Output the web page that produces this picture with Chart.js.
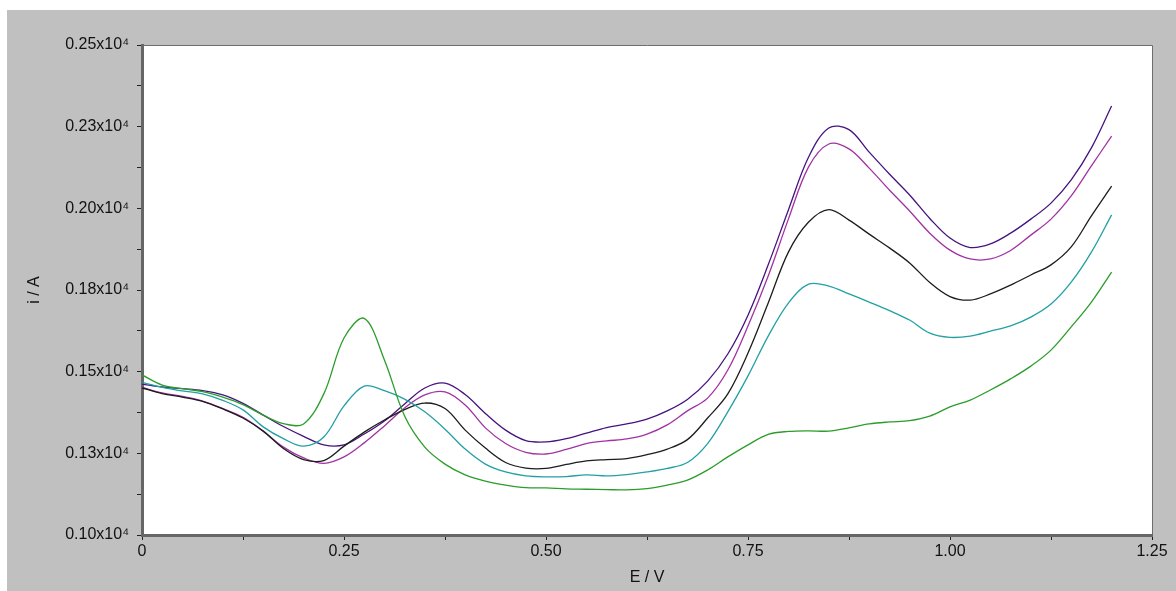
<!DOCTYPE html>
<html>
<head>
<meta charset="utf-8">
<script src="https://cdn.jsdelivr.net/npm/chart.js@4.4.0/dist/chart.umd.min.js"></script>
<style>
  html, body { margin: 0; padding: 0; background: #fff; }
  #panel { position: absolute; left: 7px; top: 10px; width: 1169px; height: 581px; background: #c0c0c0; }
</style>
</head>
<body>
<div id="panel"><canvas id="cv" width="1169" height="581"></canvas></div>
<script>
// potential E / V
const potential = [0, 0.025, 0.05, 0.075, 0.1, 0.125, 0.15, 0.175, 0.2, 0.225,
    0.25, 0.275, 0.3, 0.325, 0.35, 0.375, 0.4, 0.425, 0.45, 0.475,
    0.5, 0.525, 0.55, 0.575, 0.6, 0.625, 0.65, 0.675, 0.7, 0.725,
    0.75, 0.775, 0.8, 0.825, 0.85, 0.875, 0.9, 0.925, 0.95, 0.975,
    1.0, 1.025, 1.05, 1.075, 1.1, 1.125, 1.15, 1.175, 1.2];

// current i / A for each curve
const curveGreen = [1490, 1459, 1448, 1439, 1422, 1399, 1367, 1341, 1340, 1432,
    1603, 1663, 1536, 1364, 1269, 1217, 1184, 1165, 1153, 1145,
    1144, 1141, 1140, 1139, 1138, 1142, 1153, 1168, 1199, 1239,
    1276, 1308, 1317, 1319, 1318, 1328, 1340, 1346, 1350, 1364,
    1392, 1413, 1444, 1478, 1517, 1566, 1637, 1713, 1805];

const curveTeal = [1467, 1452, 1441, 1432, 1412, 1383, 1331, 1295, 1272, 1300,
    1395, 1456, 1442, 1416, 1377, 1324, 1263, 1217, 1193, 1181,
    1178, 1179, 1184, 1181, 1185, 1193, 1204, 1222, 1280, 1377,
    1487, 1609, 1710, 1768, 1762, 1738, 1713, 1687, 1658, 1618,
    1605, 1609, 1624, 1640, 1667, 1707, 1774, 1866, 1980];

const curveBlack = [1450, 1433, 1422, 1409, 1386, 1358, 1318, 1265, 1231, 1228,
    1272, 1315, 1352, 1384, 1404, 1387, 1321, 1266, 1222, 1205,
    1204, 1216, 1227, 1231, 1234, 1246, 1263, 1292, 1358, 1432,
    1557, 1710, 1866, 1958, 1996, 1964, 1921, 1879, 1833, 1773,
    1730, 1719, 1738, 1765, 1796, 1827, 1882, 1977, 2068];

const curveMagenta = [1452, 1435, 1424, 1410, 1387, 1360, 1318, 1269, 1236, 1219,
    1239, 1282, 1334, 1389, 1429, 1438, 1398, 1328, 1280, 1253,
    1248, 1262, 1280, 1288, 1294, 1309, 1337, 1380, 1419, 1505,
    1640, 1793, 1967, 2127, 2197, 2182, 2123, 2056, 1992, 1924,
    1872, 1845, 1845, 1871, 1918, 1967, 2038, 2130, 2221];

const curveIndigo = [1462, 1453, 1448, 1442, 1429, 1403, 1367, 1332, 1302, 1276,
    1276, 1309, 1349, 1401, 1450, 1465, 1430, 1372, 1321, 1289,
    1285, 1295, 1312, 1329, 1340, 1355, 1380, 1415, 1471, 1554,
    1673, 1827, 1995, 2157, 2246, 2241, 2172, 2105, 2041, 1969,
    1909, 1880, 1891, 1924, 1967, 2016, 2087, 2185, 2313];

function pairs(ys) {
    return potential.map((e, i) => ({ x: e, y: ys[i] }));
}

function series(ys, color) {
    return {
        data: pairs(ys),
        borderColor: color,
        borderWidth: 1.3,
        pointRadius: 0,
        fill: false,
        tension: 0.35
    };
}

// white plot area with thin top/right frame
const plotBg = {
    id: 'plotBg',
    beforeDraw(chart) {
        const { ctx, chartArea: a } = chart;
        ctx.save();
        ctx.fillStyle = '#ffffff';
        ctx.fillRect(a.left, a.top, a.right - a.left, a.bottom - a.top);
        ctx.strokeStyle = '#6e6e6e';
        ctx.lineWidth = 1;
        ctx.beginPath();
        ctx.moveTo(a.left, a.top + 0.5);
        ctx.lineTo(a.right + 0.5, a.top + 0.5);
        ctx.lineTo(a.right + 0.5, a.bottom);
        ctx.stroke();
        ctx.restore();
    }
};

Chart.defaults.font.family = '"Liberation Sans", Arial, sans-serif';
Chart.defaults.font.size = 16;
Chart.defaults.color = '#111';

const cv = document.getElementById('cv').getContext('2d');

const voltammogram = new Chart(cv, {
    type: 'line',
    data: {
        datasets: [
            series(curveGreen, '#2a9d2a'),
            series(curveTeal, '#22a0a4'),
            series(curveBlack, '#1c1c1c'),
            series(curveMagenta, '#a232a2'),
            series(curveIndigo, '#45137f')
        ]
    },
    options: {
        responsive: false,
        animation: false,
        layout: { padding: { top: 35, right: 24, left: 0, bottom: 0 } },
        plugins: {
            legend: { display: false },
            tooltip: { enabled: false }
        },
        scales: {
            x: {
                type: 'linear',
                min: 0,
                max: 1.25,
                afterFit: (s) => { s.height = 56; },
                border: { color: '#666', width: 3 },
                grid: { drawOnChartArea: false, drawTicks: true, tickLength: 5, tickColor: '#222', tickWidth: 1 },
                ticks: {
                    stepSize: 0.125,
                    autoSkip: false,
                    maxRotation: 0,
                    padding: 2,
                    color: '#111',
                    callback: (v) => {
                        const q = v * 4;
                        if (Math.abs(q - Math.round(q)) > 1e-9) return '';
                        return v === 0 ? '0' : v.toFixed(2);
                    }
                },
                title: { display: true, text: 'E / V', color: '#111', padding: { top: 0, bottom: 4 } }
            },
            y: {
                min: 1000,
                max: 2500,
                afterFit: (s) => { s.width = 135; },
                border: { color: '#666', width: 3 },
                grid: { drawOnChartArea: false, drawTicks: true, tickLength: 5, tickColor: '#222', tickWidth: 1 },
                ticks: {
                    stepSize: 125,
                    autoSkip: false,
                    padding: 8,
                    color: '#111',
                    callback: (v) => {
                        if ((v - 1000) % 250 !== 0) return '';
                        return (Math.round(v / 100) / 100).toFixed(2) + 'x10\u2074';
                    }
                },
                title: { display: true, text: 'i / A', color: '#111', padding: { top: 18, bottom: 0 } }
            }
        }
    },
    plugins: [plotBg]
});
</script>
</body>
</html>
